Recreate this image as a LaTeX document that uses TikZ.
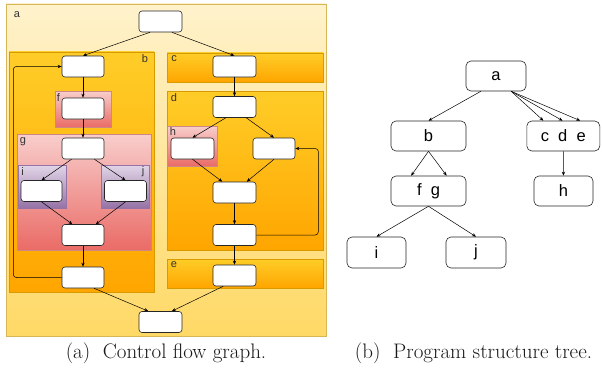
\documentclass[tikz,border=0pt]{standalone}
\usepackage{fontspec}
\newfontfamily\sansf{Liberation Sans}
\usetikzlibrary{arrows.meta,calc}
\definecolor{yA}{HTML}{FFF2CC}
\definecolor{yB}{HTML}{FFD966}
\definecolor{yE}{HTML}{D6B656}
\definecolor{oA}{HTML}{FFCD28}
\definecolor{oB}{HTML}{FFA500}
\definecolor{oE}{HTML}{D79B00}
\definecolor{rA}{HTML}{F8CECC}
\definecolor{rB}{HTML}{EA6B66}
\definecolor{rE}{HTML}{B85450}
\definecolor{pA}{HTML}{E1D5E7}
\definecolor{pB}{HTML}{9673A6}
\definecolor{pE}{HTML}{9673A6}
\begin{document}
\begin{tikzpicture}[x=1pt,y=-1pt,
  cfg/.style={draw=black!85, fill=white, rounded corners=3pt, line width=0.6pt,
    minimum width=42pt, minimum height=21pt, inner sep=0pt},
  tn/.style={draw=black!85, fill=white, rounded corners=5pt, line width=0.6pt,
    minimum height=30pt, inner sep=0pt, font=\sansf\fontsize{16.5}{20}\selectfont},
  arr/.style={-{Stealth[length=4pt,width=3.2pt]}, line width=0.5pt, black},
  yreg/.style={draw=yE, line width=0.6pt, top color=yA, bottom color=yB},
  oreg/.style={draw=oE, line width=0.6pt, top color=oA, bottom color=oB},
  rreg/.style={draw=rE!70, line width=0.6pt, top color=rA, bottom color=rB},
  preg/.style={draw=pE, line width=0.6pt, top color=pA, bottom color=pB},
  lbl/.style={font=\sansf\fontsize{11}{12}\selectfont, text=black!80, inner sep=0pt},
  captxt/.style={font=\fontsize{21}{24}\selectfont, text=black!90, anchor=base, inner sep=0pt}]
\useasboundingbox (0,0) rectangle (602,369);
\fill[white] (0,0) rectangle (602,369);
% regions
\path[yreg] (6,4) rectangle (326,336);
\path[oreg] (9,52) rectangle (154,292);
\path[rreg] (55,91) rectangle (111,127);
\path[rreg] (17,134) rectangle (151,250);
\path[preg] (18,165) rectangle (66,208);
\path[preg] (101,165) rectangle (149,208);
\path[oreg] (167,53) rectangle (323,82);
\path[oreg] (167,91) rectangle (323,250);
\path[rreg] (167,126) rectangle (217,166);
\path[oreg] (167,259) rectangle (323,288);
% region labels
\node[lbl] (la) at (17,15) {a};
\node[lbl] (lb) at (145,59) {b};
\node[lbl] (lf) at (58.5,98) {f};
\node[lbl] (lg) at (23,142) {g};
\node[lbl] (li) at (22.5,172) {i};
\node[lbl] (lj) at (143,172) {j};
\node[lbl] (lc) at (174,59) {c};
\node[lbl] (ld) at (174,98) {d};
\node[lbl] (lh) at (173,132) {h};
\node[lbl] (le) at (174,265) {e};
% CFG nodes
\node[cfg, minimum width=43pt] (top) at (160.5,21.5) {};
\node[cfg] (b1) at (83,66.5) {};
\node[cfg] (f1) at (83,108.5) {};
\node[cfg] (g1) at (83,148.5) {};
\node[cfg, minimum width=41pt] (i1) at (41.5,191) {};
\node[cfg] (j1) at (125.5,191) {};
\node[cfg] (g2) at (83,235) {};
\node[cfg] (b2) at (83,277.5) {};
\node[cfg, minimum width=43pt] (bot) at (160.5,322) {};
\node[cfg, minimum width=43pt] (c1) at (234.5,66.5) {};
\node[cfg, minimum width=43pt] (d1) at (234.5,107) {};
\node[cfg, minimum width=43pt] (h1) at (192.5,148.5) {};
\node[cfg] (d2) at (274,148.5) {};
\node[cfg, minimum width=43pt] (d3) at (234.5,192.5) {};
\node[cfg, minimum width=43pt] (d4) at (234.5,235) {};
\node[cfg, minimum width=43pt] (e1) at (234.5,275.5) {};
% CFG edges
\draw[arr] ($(top.south west)!0.26!(top.south east)$) -- (b1.north);
\draw[arr] ($(top.south west)!0.76!(top.south east)$) -- (c1.north);
\draw[arr] (b1) -- (f1);
\draw[arr] (f1) -- (g1);
\draw[arr] ($(g1.south west)!0.23!(g1.south east)$) -- (i1.north);
\draw[arr] ($(g1.south west)!0.77!(g1.south east)$) -- (j1.north);
\draw[arr] (i1.south) -- ($(g2.north west)!0.25!(g2.north east)$);
\draw[arr] (j1.south) -- ($(g2.north west)!0.8!(g2.north east)$);
\draw[arr] (g2) -- (b2);
\coordinate (bk1) at (13.3,277.5);
\coordinate (bk2) at (13.3,66.5);
\draw[arr, rounded corners=3pt] (b2.west) -- (bk1) -- (bk2) -- (b1.west);
\draw[arr] ($(b2.south west)!0.76!(b2.south east)$) -- ($(bot.north west)!0.22!(bot.north east)$);
\draw[arr] (c1) -- (d1);
\draw[arr] ($(d1.south west)!0.3!(d1.south east)$) -- (h1.north);
\draw[arr] ($(d1.south west)!0.77!(d1.south east)$) -- (d2.north);
\draw[arr] (h1.south) -- ($(d3.north west)!0.22!(d3.north east)$);
\draw[arr] (d2.south) -- ($(d3.north west)!0.78!(d3.north east)$);
\draw[arr] (d3) -- (d4);
\coordinate (bk3) at (318.3,235);
\coordinate (bk4) at (318.3,148.5);
\draw[arr, rounded corners=3pt] (d4.east) -- (bk3) -- (bk4) -- (d2.east);
\draw[arr] (d4) -- (e1);
\draw[arr] ($(e1.south west)!0.24!(e1.south east)$) -- ($(bot.north west)!0.76!(bot.north east)$);
% tree
\node[tn, minimum width=60pt] (ta) at (496,76) {a};
\node[tn, minimum width=75pt] (tb) at (428.5,136) {b};
\node[tn, minimum width=73pt] (tc) at (563.3,136) {c~~d~~e};
\node[tn, minimum width=75pt] (tf) at (428.5,191) {f~~g};
\node[tn, minimum width=59pt] (th) at (563.5,191) {h};
\node[tn, minimum width=59pt, minimum height=31pt] (ti) at (376.5,252.5) {i};
\node[tn, minimum width=60pt, minimum height=31pt] (tj) at (476,252.5) {j};
\draw[arr] ($(ta.south west)!0.25!(ta.south east)$) -- (tb.north);
\draw[arr] ($(ta.south west)!0.75!(ta.south east)$) -- ($(tc.north west)!0.23!(tc.north east)$);
\draw[arr] ($(ta.south west)!0.75!(ta.south east)$) -- ($(tc.north west)!0.49!(tc.north east)$);
\draw[arr] ($(ta.south west)!0.75!(ta.south east)$) -- ($(tc.north west)!0.73!(tc.north east)$);
\draw[arr] (tb.south) -- ($(tf.north west)!0.27!(tf.north east)$);
\draw[arr] (tb.south) -- ($(tf.north west)!0.74!(tf.north east)$);
\draw[arr] (tc) -- (th);
\draw[arr] (tf.south) -- (ti.north);
\draw[arr] (tf.south) -- (tj.north);
% captions
\node[captxt] (capa) at (166,358) {(a)\hspace{0.3em} Control flow graph.};
\node[captxt] (capb) at (473.5,358) {(b)\hspace{0.3em} Program structure tree.};
\end{tikzpicture}
\end{document}
